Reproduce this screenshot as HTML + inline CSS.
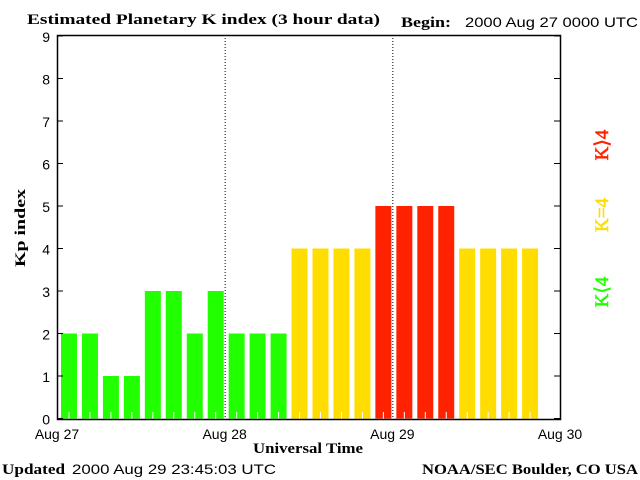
<!DOCTYPE html>
<html><head><meta charset="utf-8"><style>
body{margin:0;background:#fff;}
svg{display:block;font-family:"Liberation Serif",serif;}
.t{font-family:"Liberation Sans",sans-serif;font-size:14px;}
.b{font-family:"Liberation Serif",serif;font-weight:bold;font-size:15px;}
</style></head><body>
<svg id="c" width="640" height="480">
<text x="27" y="24" class="b" textLength="353" lengthAdjust="spacingAndGlyphs">Estimated Planetary K index (3 hour data)</text>
<text x="401" y="27" class="b" textLength="50" lengthAdjust="spacingAndGlyphs">Begin:</text>
<text x="465" y="27" class="t" textLength="173" lengthAdjust="spacingAndGlyphs">2000 Aug 27 0000 UTC</text>
<g id="plot"></g>
<text x="25" y="228" class="b" transform="rotate(-90 25 228)" text-anchor="middle" textLength="78" lengthAdjust="spacingAndGlyphs">Kp index</text>
<text x="253" y="453" class="b" textLength="110" lengthAdjust="spacingAndGlyphs">Universal Time</text>
<text x="2" y="474" class="b" textLength="63" lengthAdjust="spacingAndGlyphs">Updated</text>
<text x="72" y="474" class="t" textLength="204" lengthAdjust="spacingAndGlyphs">2000 Aug 29 23:45:03 UTC</text>
<text x="422" y="474" class="b" textLength="216" lengthAdjust="spacingAndGlyphs">NOAA/SEC Boulder, CO USA</text>
<text x="608" y="145" fill="#ff2200" font-size="19" font-family="Liberation Serif,serif" text-anchor="middle" stroke="#ff2200" stroke-width="0.6" transform="rotate(-90 608 145)">K⟩4</text>
<text x="608" y="215" fill="#ffdd00" font-size="19" font-family="Liberation Serif,serif" text-anchor="middle" stroke="#ffdd00" stroke-width="0.6" transform="rotate(-90 608 215)">K=4</text>
<text x="608" y="292" fill="#22ff00" font-size="19" font-family="Liberation Serif,serif" text-anchor="middle" stroke="#22ff00" stroke-width="0.6" transform="rotate(-90 608 292)">K⟨4</text>
</svg>
<script>
const kpValues=[2,2,1,1,3,3,2,3,2,2,2,4,4,4,4,5,5,5,5,4,4,4,4];
const dayLabels=["Aug 27","Aug 28","Aug 29","Aug 30"];
const yTicks=[0,1,2,3,4,5,6,7,8,9];
const NS="http://www.w3.org/2000/svg";
const g=document.getElementById('plot');
const L=57,R=560,T=35,B=419;
const slot=(R-L)/24;
const xs=i=>L+i*slot;
const ys=v=>418.5-v*42.5;
function mk(tag,attrs){const e=document.createElementNS(NS,tag);for(const k in attrs)e.setAttribute(k,attrs[k]);g.appendChild(e);return e;}
kpValues.forEach((v,i)=>{
  const col=v>4?'#ff2200':(v==4?'#ffdd00':'#22ff00');
  const x=xs(i)+4,w=16;
  const r=mk('rect',{x:x,y:ys(v),width:w,height:ys(0)-ys(v),fill:col});
  
  
  const t=mk('line',{x1:x+w/2,x2:x+w/2,y1:B-7,y2:B,stroke:'#fff','stroke-width':1});
  
  
});
[1,2].forEach(d=>{
  const l=mk('line',{x1:xs(d*8)+0.5,x2:xs(d*8)+0.5,y1:T,y2:B,stroke:'#000','stroke-dasharray':'1,2'});
  
  
});
const ax=mk('rect',{x:L+0.5,y:T+0.5,width:R-L,height:B-T,fill:'none',stroke:'#000','stroke-width':1.5});


yTicks.forEach(v=>{
  const y=ys(v);
  const tl=mk('line',{x1:L,x2:L+6,y1:y,y2:y,stroke:'#000'});
  
  
  const tr=mk('line',{x1:R-6,x2:R,y1:y,y2:y,stroke:'#000'});
  
  
  const tx=mk('text',{x:50,y:y+6,'text-anchor':'end',class:'t','font-size':'16'});
  tx.textContent=v;
  
  
});
dayLabels.forEach((s,d)=>{
  const tx=mk('text',{x:xs(d*8),y:439,'text-anchor':'middle',class:'t'});
  tx.textContent=s;
  
  
});
</script>
</body></html>
